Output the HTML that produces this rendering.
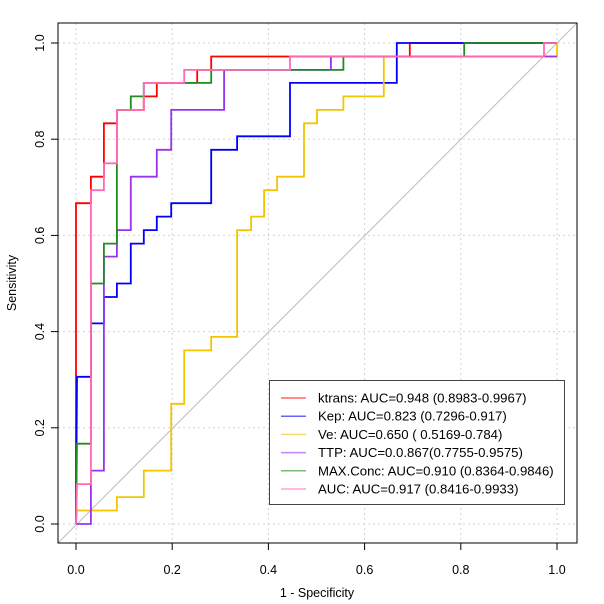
<!DOCTYPE html>
<html><head><meta charset="utf-8"><style>
body{margin:0;background:#fff;}
svg{display:block;font-family:"Liberation Sans",Arial,sans-serif;}
</style></head><body>
<svg id="chart" width="604" height="604" viewBox="0 0 604 604"></svg>
<script>
const seriesNames = ["ktrans: AUC=0.948 (0.8983-0.9967)","Kep: AUC=0.823 (0.7296-0.917)","Ve: AUC=0.650 ( 0.5169-0.784)","TTP: AUC=0.0.867(0.7755-0.9575)","MAX.Conc: AUC=0.910 (0.8364-0.9846)","AUC: AUC=0.917 (0.8416-0.9933)"];
const seriesKeys = ["ktrans","kep","ve","ttp","maxconc","auc"];
const seriesColors = ["#ff0000","#0000ff","#f2c500","#9933ee","#228b22","#ff69b4"];
const ticks = [0,0.2,0.4,0.6,0.8,1.0];
const tickLabels = ["0.0","0.2","0.4","0.6","0.8","1.0"];
// fpr (1-specificity) and tpr (sensitivity) corner points of each step curve
const ktransFpr = [0,0,0.031,0.031,0.058,0.058,0.085,0.085,0.141,0.141,0.168,0.168,0.252,0.252,0.281,0.281,0.694,0.694,1];
const ktransTpr = [0,0.667,0.667,0.722,0.722,0.833,0.833,0.861,0.861,0.889,0.889,0.917,0.917,0.944,0.944,0.972,0.972,1,1];
const kepFpr = [0,0.002,0.031,0.031,0.058,0.058,0.085,0.085,0.114,0.114,0.141,0.141,0.168,0.168,0.198,0.198,0.281,0.281,0.335,0.335,0.445,0.445,0.667,0.667,1];
const kepTpr = [0,0.306,0.306,0.417,0.417,0.472,0.472,0.5,0.5,0.583,0.583,0.611,0.611,0.639,0.639,0.667,0.667,0.778,0.778,0.806,0.806,0.917,0.917,1,1];
const veFpr = [0,0.002,0.085,0.085,0.141,0.141,0.198,0.198,0.225,0.225,0.281,0.281,0.335,0.335,0.364,0.364,0.391,0.391,0.418,0.418,0.474,0.474,0.501,0.501,0.556,0.556,0.640,0.640,1,1];
const veTpr = [0,0.028,0.028,0.056,0.056,0.111,0.111,0.25,0.25,0.361,0.361,0.389,0.389,0.611,0.611,0.639,0.639,0.694,0.694,0.722,0.722,0.833,0.833,0.861,0.861,0.889,0.889,0.972,0.972,1];
const ttpFpr = [0,0.031,0.031,0.058,0.058,0.085,0.085,0.114,0.114,0.168,0.168,0.198,0.198,0.308,0.308,0.530,0.530,1];
const ttpTpr = [0,0,0.111,0.111,0.556,0.556,0.611,0.611,0.722,0.722,0.778,0.778,0.861,0.861,0.944,0.944,0.972,0.972];
const maxFpr = [0,0.002,0.031,0.031,0.058,0.058,0.085,0.085,0.114,0.114,0.141,0.141,0.281,0.281,0.556,0.556,0.807,0.807,1];
const maxTpr = [0,0.167,0.167,0.5,0.5,0.583,0.583,0.861,0.861,0.889,0.889,0.917,0.917,0.944,0.944,0.972,0.972,1,1];
const aucFpr = [0,0.002,0.031,0.031,0.058,0.058,0.085,0.085,0.141,0.141,0.225,0.225,0.445,0.445,0.973,0.973,1];
const aucTpr = [0,0.083,0.083,0.694,0.694,0.75,0.75,0.861,0.861,0.917,0.917,0.944,0.944,0.972,0.972,1,1];
const allFpr = [ktransFpr,kepFpr,veFpr,ttpFpr,maxFpr,aucFpr];
const allTpr = [ktransTpr,kepTpr,veTpr,ttpTpr,maxTpr,aucTpr];
const drawOrder = [0,1,2,3,4,5];

const NS="http://www.w3.org/2000/svg";
const svg=document.getElementById('chart');
function sx(v){return 76+v*481;}
function sy(v){return 524-v*481;}
function mk(tag,attrs,parent){const e=document.createElementNS(NS,tag);for(const k in attrs)e.setAttribute(k,attrs[k]);(parent||svg).appendChild(e);return e;}

const grid=mk('g',{});


ticks.forEach(t=>{
  mk('line',{x1:sx(t),x2:sx(t),y1:23,y2:543,stroke:'#d3d3d3','stroke-dasharray':'2,3','stroke-width':1},grid);
  mk('line',{x1:58,x2:577,y1:sy(t),y2:sy(t),stroke:'#d3d3d3','stroke-dasharray':'2,3','stroke-width':1},grid);
});
const diag=mk('line',{x1:58,y1:543,x2:577,y2:23,stroke:'#bdbdbd','stroke-width':1});



drawOrder.forEach(i=>{
  const f=allFpr[i],t=allTpr[i];
  const pts=f.map((v,j)=>sx(v).toFixed(1)+','+sy(t[j]).toFixed(1)).join(' ');
  const p=mk('polyline',{points:pts,fill:'none',stroke:seriesColors[i],'stroke-width':1.8});
  
  
});

const box=mk('rect',{x:58,y:23,width:519,height:520,fill:'none',stroke:'#000','stroke-width':1});



ticks.forEach((t,i)=>{
  mk('line',{x1:sx(t),x2:sx(t),y1:543,y2:550,stroke:'#000'});
  const xl=mk('text',{x:sx(t),y:574,'text-anchor':'middle','font-size':12.5,fill:'#000'});
  xl.textContent=tickLabels[i];
  
  
  mk('line',{x1:51,x2:58,y1:sy(t),y2:sy(t),stroke:'#000'});
  const yl=mk('text',{x:44,y:sy(t),'text-anchor':'middle','font-size':12.5,fill:'#000',transform:`rotate(-90 44 ${sy(t)})`});
  yl.textContent=tickLabels[i];
  
  
});
const xt=mk('text',{x:317,y:597,'text-anchor':'middle','font-size':12.5});
xt.textContent='1 - Specificity';


const yt=mk('text',{x:16,y:283,'text-anchor':'middle','font-size':12.5,transform:'rotate(-90 16 283)'});
yt.textContent='Sensitivity';



const lg=mk('g',{});


mk('rect',{x:269.5,y:380.5,width:295,height:124,fill:'#fff',stroke:'#444','stroke-width':1},lg);
seriesNames.forEach((n,i)=>{
  const y=398+i*18.2;
  const g=mk('g',{},lg);
  
  
  mk('line',{x1:281,x2:306,y1:y,y2:y,stroke:seriesColors[i],'stroke-width':1.5,'stroke-opacity':0.6},g);
  const tx=mk('text',{x:318,y:y+4.5,'font-size':13.2,fill:'#000'},g);
  tx.textContent=n;
});
</script>
</body></html>
